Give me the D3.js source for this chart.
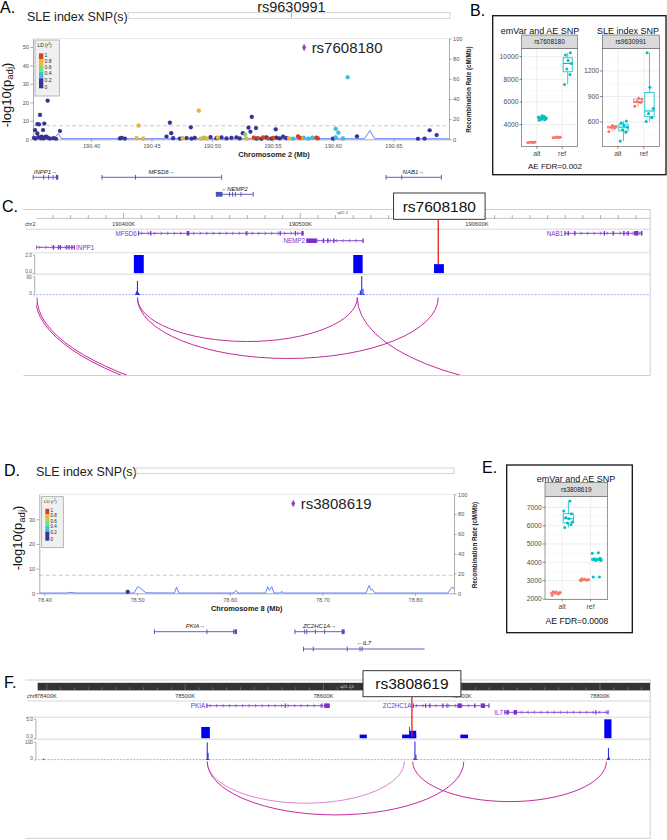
<!DOCTYPE html>
<html><head><meta charset="utf-8">
<script src="https://cdnjs.cloudflare.com/ajax/libs/d3/7.8.5/d3.min.js"></script>
<style>body{margin:0;background:#fff}svg{display:block}</style>
</head><body><script>
// ================= DATA =================
// ---- shared LocusZoom settings ----
const REC_TICKS=[0,20,40,60,80,100];
const LD_LABELS=["1","0.8","0.6","0.4","0.2","0"];
const LD_COLORS=["#d8411d","#f2b52c","#72e06c","#3fbde4","#37339a"]; // 0.8-1, 0.6-0.8, 0.4-0.6, 0.2-0.4, 0-0.2
const GW_SIG=7.3;

// ---- Panel A : chr2 ----
const A_X_TICKS=[190.40,190.45,190.50,190.55,190.60,190.65];
const A_Y_TICKS=[0,10,20,30,40,50];
const A_POS=[190.3537,190.3556,190.3570,190.3578,190.3603,190.3613,190.3641,190.3743,190.3556,190.3627,
 190.4393,190.4891,190.4652,190.4663,190.4825,190.5255,190.5302,190.5329,190.5364,190.5318,190.5527,190.5274,
 190.6122,190.6023,190.6045,190.6199,190.6800,190.6858,
 190.3528,190.3541,190.3564,190.3585,190.3592,190.3605,190.3619,190.3633,190.3646,190.3660,190.3688,190.3710,
 190.4239,190.4253,190.4280,190.4377,190.4431,190.4624,190.4679,190.4734,190.4757,190.4790,190.4831,190.4858,
 190.4908,190.4932,190.4955,190.4988,190.5037,190.5048,190.5079,190.5120,190.5161,190.5203,190.5230,190.5285,
 190.5368,190.5409,190.5450,190.5492,190.5533,190.5560,190.5588,190.5616,190.5346,190.5381,190.5422,190.5464,
 190.5505,190.5637,190.5670,190.5711,190.5725,190.5739,190.5758,190.5797,190.5830,190.5863,190.5876,190.6000,
 190.6083,190.6023,190.6703,190.6758];
const A_P=[5.0,8.3,8.1,13.2,5.0,8.5,20.9,4.5,3.2,1.5,
 7.4,15.5,9.0,3.3,6.5,3.3,6.3,12.1,6.1,4.1,5.4,2.5,
 33.6,5.7,3.6,1.6,4.9,2.3,
 0.8,0.4,1.2,0.6,1.5,0.5,1.0,1.3,0.7,0.4,0.6,0.3,
 0.5,0.8,0.4,0.6,0.4,1.5,0.6,0.4,0.6,0.7,0.4,0.8,
 0.4,0.9,0.5,1.2,0.6,0.9,1.0,0.5,0.8,1.1,0.5,0.4,
 0.4,0.3,1.1,0.4,0.9,0.5,1.4,0.6,0.9,0.6,1.0,0.5,
 0.8,0.5,0.4,1.6,0.8,0.7,0.8,0.4,0.9,0.9,0.5,0.4,
 0.5,1.0,0.3,0.4];
const A_LD=[.1,.1,.1,.1,.1,.1,.1,.1,.1,.1,
 .7,.7,.1,.1,.1,.1,.1,.1,.1,.1,.1,.5,
 .3,.3,.3,.1,.1,.1,
 .1,.1,.1,.1,.1,.1,.1,.1,.1,.1,.1,.1,
 .1,.1,.1,.7,.7,.1,.1,.1,.7,.1,.1,.1,
 .7,.5,.7,.1,.1,.7,.1,.1,.1,.1,.1,.7,
 .1,.1,.1,.1,.1,.1,.1,.1,.9,.9,.9,.9,
 .9,.7,.3,.9,.9,.7,.3,.3,.3,.9,.9,.1,
 .3,.3,.1,.1];
const A_INDEX={name:"rs7608180",pos:190.5762,p:49.7};
const A_SLE={name:"rs9630991",pos:190.5657};
const A_REC_POS=[190.352,190.366,190.3693,190.3729,190.3751,190.3768,190.4610,190.4623,190.4635,190.6262,190.6306,190.6345,190.6960];
const A_REC_RATE=[0.6,0.8,1.0,5.7,1.2,0.6,0.6,1.8,0.6,0.6,8.7,0.6,0.5];
const A_GENE_NAME=["INPP1→","MFSD6→","NAB1→","←NEMP2"];
const A_GENE_START=[190.3518,190.4087,190.6436,190.5032];
const A_GENE_END=[190.3729,190.5079,190.6896,190.5340];
const A_GENE_ROW=[0,0,0,1];
const A_GENE_EXONS=[
 [[190.3518,190.3522],[190.3605,190.3608],[190.3646,190.3649],[190.3682,190.3685],[190.3709,190.3729]],
 [[190.4087,190.4090],[190.4363,190.4366],[190.5076,190.5079]],
 [[190.6436,190.6439],[190.6566,190.6569],[190.6893,190.6896]],
 [[190.5032,190.5087],[190.5141,190.5144],[190.5166,190.5169],[190.5189,190.5192],[190.5236,190.5239],[190.5337,190.5340]]];

// ---- Panel B : box plots ----
const B_CATS=["alt","ref"];
const B1_TITLE="emVar and AE SNP", B1_STRIP="rs7608180";
const B1_TICKS=[4000,6000,8000,10000];
const B1_ALT_G1=[2400,2430,2450,2470,2440];
const B1_ALT_G2=[4380,4420,4480,4520,4560,4590,4620,4680,4740,4790];
const B1_REF_G1=[2840,2860,2870,2890,2900];
const B1_REF_G2=[7550,8420,8900,9400,9650,10150,10350];
const B2_TITLE="SLE index SNP", B2_STRIP="rs9630991";
const B2_TICKS=[600,900,1200];
const B2_ALT_G1=[490,530,540,550,560];
const B2_ALT_G2=[377,480,510,540,560,590,612];
const B2_REF_G1=[785,830,840,870,880];
const B2_REF_G2=[605,650,700,760,1010,1415];
const B_FDR="AE FDR=0.002";

// ---- Panel C : IGV chr2 ----
const C_CHR="chr2", C_BAND="q32.2";
const C_GENE_NAME=["MFSD6","NEMP2","INPP1","NAB1"];
const C_GENE_STRAND=[1,-1,1,1];
const C_GENE_ROW=[0,1,2,0];
const C_GENE_START=[190408.1,190503.4,190350.2,190649.5];
const C_GENE_END=[190501.9,190535.9,190372.4,190693.7];
const C_GENE_EXONS=[
 [[190408.1,190408.8],[190415.0,190415.7],[190435.8,190437.2],[190469.4,190470.1],[190488.3,190489],[190496.9,190497.6],[190500.6,190501.9]],
 [[190503.4,190509.4],[190512.7,190513.5],[190515.2,190516],[190518.6,190519.4],[190535.2,190535.9]],
 [[190350.2,190350.8],[190360,190360.7],[190362.8,190363.5],[190363.9,190364.6],[190367.5,190368.2],[190368.8,190369.5],[190370.4,190371.1],[190371.8,190372.4]],
 [[190649.5,190650.2],[190651.4,190652.1],[190655.1,190655.8],[190671.8,190672.5],[190676.8,190677.5],[190682.8,190683.6],[190685.2,190686],[190689,190691.4],[190692.8,190693.7]]];
const C_BAR_START=[190405.8,190530.0,190575.7];
const C_BAR_END=[190411.4,190535.3,190581.3];
const C_BAR_VAL=[2.0,2.0,1.0];
const C_SIG_POS=[190406.6,190407.2,190407.8,190408.4,190409.0,190533.2,190534.0,190534.8,190535.5,190536.2];
const C_SIG_VAL=[4,12,46,8,3,5,15,62,20,4];
const C_ARC_START=[190407.8,190407.8,190532.3,190350.0,190350.9];
const C_ARC_END=[190532.3,190578.1,190798.0,190900.0,190900.0];
const C_ARC_H=[44,61,94,137,134];
const C_SNP={name:"rs7608180",pos:190578.1};

// ---- Panel D : chr8 ----
const D_X_TICKS=[78.40,78.50,78.60,78.70,78.80];
const D_Y_TICKS=[0,10,20,30];
const D_POS=[78.4900];
const D_P=[0.6];
const D_LD=[0.1];
const D_INDEX={name:"rs3808619",pos:78.6686,p:36.4};
const D_REC_POS=[78.3946,78.4256,78.4277,78.4331,78.4968,78.5007,78.5032,78.5097,78.5404,78.5426,78.5453,78.6046,78.6068,78.6089,78.6386,78.6410,78.6429,78.6453,78.6478,78.6548,78.6561,78.6575,78.7470,78.7506,78.7524,78.7540,78.7567,78.8355,78.8395,78.8420];
const D_REC_RATE=[0.3,0.3,1.0,0.3,0.3,6.7,5.5,0.5,0.3,6,0.3,0.3,3,0.3,0.3,6.7,3,6.7,0.3,0.3,2,0.3,0.3,8,3.5,4,0.3,0.3,6,5];
const D_GENE_NAME=["PKIA→","ZC2HC1A→","←IL7"];
const D_GENE_START=[78.5183,78.6699,78.6791];
const D_GENE_END=[78.6079,78.7240,78.8103];
const D_GENE_ROW=[0,0,1];
const D_GENE_EXONS=[
 [[78.5183,78.5186],[78.5749,78.5752],[78.6038,78.6041],[78.6052,78.6079]],
 [[78.6699,78.6702],[78.6805,78.6808],[78.6827,78.6830],[78.6919,78.6922],[78.7020,78.7023],[78.7208,78.7240]],
 [[78.6791,78.6794],[78.6896,78.6899],[78.7263,78.7266],[78.7401,78.7404],[78.7424,78.7427]]];

// ---- Panel E : box plot ----
const E_TITLE="emVar and AE SNP", E_STRIP="rs3808619";
const E_TICKS=[2000,3000,4000,5000,6000,7000];
const E_ALT_G1=[2200,2280,2330,2350,2380,2400];
const E_ALT_G2=[5900,6050,6150,6200,6380,6450,6650,6800,7350];
const E_REF_G1=[3000,3030,3050,3060,3080,3100];
const E_REF_G2=[3200,3200,4100,4100,4150,4200,4220,4500,4520];
const E_FDR="AE FDR=0.0008";

// ---- Panel F : IGV chr8 ----
const F_CHR="chr8", F_BAND="q21.13";
const F_GENE_NAME=["PKIA","ZC2HC1A","IL7"];
const F_GENE_STRAND=[1,1,-1];
const F_GENE_ROW=[0,0,1];
const F_GENE_START=[78515.4,78664.6,78730.8];
const F_GENE_END=[78604.6,78720.0,78806.1];
const F_GENE_EXONS=[
 [[78515.4,78516.1],[78572.0,78572.8],[78598.5,78599.3],[78600.6,78604.6]],
 [[78664.6,78665.3],[78673.5,78674.3],[78676.6,78677.4],[78686,78686.8],[78689,78689.8],[78696.9,78700],[78709,78709.8],[78713.8,78716.9],[78719.3,78720]],
 [[78730.8,78731.5],[78732.3,78734],[78737.5,78740],[78796.6,78797.3],[78805.4,78806.1]]];
const F_BAR_START=[78511.7,78626.2,78656.9,78662.2,78662.0,78699.0,78803.1];
const F_BAR_END=[78517.9,78631.4,78667.1,78667.1,78662.4,78704.6,78808.3];
const F_BAR_VAL=[3.0,1.0,1.0,2.0,3.0,1.0,5.0];
const F_SIG_POS=[78397.8,78515.4,78516.0,78516.6,78517.2,78665.5,78666.2,78666.9,78667.5,78805.5,78806.1,78806.7];
const F_SIG_VAL=[8,6,100,40,5,10,105,30,5,10,68,15];
const F_ARC_START=[78516.0,78516.0,78664.6];
const F_ARC_END=[78658.5,78701.5,78804.6];
const F_ARC_H=[41.6,53.3,40];
const F_ARC_LIGHT=[1,0,0];
const F_SNP={name:"rs3808619",pos:78664.0};

// ================= DRAWING =================
const FONT="'Liberation Sans', Arial, Helvetica, sans-serif";
const W=667,H=840;
const svg=d3.select("body").append("svg").attr("width",W).attr("height",H).attr("font-family",FONT);
svg.append("rect").attr("width",W).attr("height",H).attr("fill","#fff");
const defs=svg.append("defs");

function T(g,x,y,s,size,o={}){
  const t=g.append("text").attr("x",x).attr("y",y).attr("font-size",size).text(s);
  if(o.anchor)t.attr("text-anchor",o.anchor);
  t.attr("fill",o.fill||"#000");
  if(o.weight)t.attr("font-weight",o.weight);
  if(o.style)t.attr("font-style",o.style);
  if(o.rotate!=null)t.attr("transform",`rotate(${o.rotate},${x},${y})`);
  return t;
}
function styleAxis(sel,fs){
  sel.attr("font-size",null).attr("font-family",null);
  sel.select(".domain").attr("stroke","#8a8a8a").attr("stroke-width",0.7);
  sel.selectAll(".tick line").attr("stroke","#8a8a8a").attr("stroke-width",0.7);
  sel.selectAll(".tick text").attr("fill","#555").attr("font-size",fs).attr("font-family",FONT);
}
function ldColor(v){return LD_COLORS[4-Math.min(4,Math.floor(v/0.2))];}

// panel letters
[["A.",0,13],["B.",470,15.5],["C.",2,212],["D.",4,476],["E.",482,473],["F.",4,688]].forEach(d=>T(svg,d[1],d[2],d[0],16));

// ---------- LocusZoom ----------
function locusZoom(o){
  const g=svg.append("g");
  const x=d3.scaleLinear().domain(o.xDom).range([o.x0,o.x1]);
  const y=d3.scaleLinear().domain(o.yDom).range([o.yBot,o.yTop]);
  const yr=d3.scaleLinear().domain([0,100]).range([o.yBot,o.yTop]);
  T(g,o.sleX,o.sleY,"SLE index SNP(s)",12.5,{fill:"#222"});
  g.append("rect").attr("x",o.sleBar[0]).attr("y",o.sleBar[1]).attr("width",o.sleBar[2]-o.sleBar[0]).attr("height",5.6)
    .attr("fill","#fff").attr("stroke","#cacaca").attr("stroke-width",0.8);
  if(o.sle){
    g.append("line").attr("x1",x(o.sle.pos)).attr("x2",x(o.sle.pos)).attr("y1",o.sleBar[1]+0.4).attr("y2",o.sleBar[1]+5.2).attr("stroke","#8b8bf0").attr("stroke-width",0.8);
    T(g,x(o.sle.pos),o.sleBar[1]-0.6,o.sle.name,14.5,{anchor:"middle",fill:"#222"});
  }
  g.append("line").attr("x1",o.x0).attr("x2",o.x1).attr("y1",o.yTop).attr("y2",o.yTop).attr("stroke","#dedede").attr("stroke-width",0.7);
  g.append("line").attr("x1",o.x0).attr("x2",o.x1).attr("y1",y(GW_SIG)).attr("y2",y(GW_SIG))
    .attr("stroke","#bdbdbd").attr("stroke-width",0.8).attr("stroke-dasharray","4,2.5");
  g.append("path").datum(o.recPos.map((p,i)=>[p,o.recRate[i]]))
    .attr("d",d3.line().x(d=>x(d[0])).y(d=>yr(d[1]))).attr("fill","none").attr("stroke","#3f63ff").attr("stroke-width",0.8);
  const ab=g.append("g").attr("transform",`translate(0,${o.yBot})`)
    .call(d3.axisBottom(x).tickValues(o.xTicks).tickFormat(d3.format(".2f")).tickSize(2.5).tickSizeOuter(0).tickPadding(2));
  styleAxis(ab,5.6);
  const al=g.append("g").attr("transform",`translate(${o.x0},0)`)
    .call(d3.axisLeft(y).tickValues(o.yTicks).tickSize(2.6).tickSizeOuter(0).tickPadding(1.5));
  styleAxis(al,5.6);
  const ar=g.append("g").attr("transform",`translate(${o.x1},0)`)
    .call(d3.axisRight(yr).tickValues(REC_TICKS).tickSize(2.6).tickSizeOuter(0).tickPadding(1.5));
  styleAxis(ar,5.6);
  const pts=o.pos.map((p,i)=>({p,v:o.p[i],ld:o.ld[i]})).sort((a,b)=>a.ld-b.ld);
  g.selectAll("circle.snp").data(pts).enter().append("circle").attr("class","snp")
    .attr("cx",d=>x(d.p)).attr("cy",d=>y(d.v)).attr("r",2.1).attr("fill",d=>ldColor(d.ld))
    .attr("stroke","#2a2a60").attr("stroke-opacity",0.25).attr("stroke-width",0.3);
  const ix=x(o.index.pos), iy=y(o.index.p);
  g.append("path").attr("d",`M${ix},${iy-3.8}L${ix+2},${iy}L${ix},${iy+3.8}L${ix-2},${iy}Z`).attr("fill","#9a3ec5");
  T(g,ix+7.5,iy+5.3,o.index.name,15,{fill:"#222"});
  const L=o.legend, k=L[3]/56;
  g.append("rect").attr("x",L[0]).attr("y",L[1]).attr("width",L[2]).attr("height",L[3]).attr("fill","#f0f0f0").attr("stroke","#9a9a9a").attr("stroke-width",0.7);
  const tt=T(g,L[0]+2.5*k,L[1]+6.8*k,"LD (r",4.8*k,{fill:"#222"});
  tt.append("tspan").attr("font-size",3.2*k).attr("dy",-1.6*k).text("2");
  tt.append("tspan").attr("dy",1.6*k).text(")");
  const segs=[6,6.4,6,6.6,10]; let yy=L[1]+13.3*k;
  const bounds=[yy];
  LD_COLORS.forEach((c,i)=>{g.append("rect").attr("x",L[0]+4*k).attr("y",yy).attr("width",4.3*k).attr("height",segs[i]*k).attr("fill",c);yy+=segs[i]*k;bounds.push(yy);});
  LD_LABELS.forEach((s,i)=>T(g,L[0]+9.6*k,bounds[i]+(i===5?-1:1.5)*k+1.7*k,s,5*k,{fill:"#222"}));
  const yt=T(g,o.yTitle[0],o.yTitle[1],"-log10(p",13,{anchor:"middle",rotate:-90,fill:"#111"});
  yt.append("tspan").attr("font-size",9.5).attr("dy",2.5).text("adj");
  yt.append("tspan").attr("dy",-2.5).text(")");
  T(g,o.rTitle[0],o.rTitle[1],"Recombination Rate (cM/Mb)",6.3,{anchor:"middle",rotate:-90,weight:"bold",fill:"#222"});
  T(g,(o.x0+o.x1)/2+o.xTitleShift,o.yBot+17.3,o.xTitle,7.4,{anchor:"middle",weight:"bold",fill:"#222"});
  return x;
}
function lzGenes(x,names,starts,ends,exons,rows,rowY,labelY){
  const g=svg.append("g"); const col="#4f4fb8";
  names.forEach((n,i)=>{
    const yl=rowY[rows[i]];
    g.append("line").attr("x1",x(starts[i])).attr("x2",x(ends[i])).attr("y1",yl).attr("y2",yl).attr("stroke",col).attr("stroke-width",0.9);
    exons[i].forEach(e=>g.append("rect").attr("x",x(e[0])).attr("y",yl-2.4).attr("width",Math.max(0.9,x(e[1])-x(e[0]))).attr("height",4.8).attr("fill",col));
    T(g,(x(starts[i])+x(ends[i]))/2,labelY[rows[i]],n,6,{anchor:"middle",style:"italic",fill:"#222"});
  });
}

const xA=locusZoom({x0:33,x1:449,yTop:38.5,yBot:139.3,xDom:[190.352,190.696],yDom:[0,54.6],xTicks:A_X_TICKS,yTicks:A_Y_TICKS,
  pos:A_POS,p:A_P,ld:A_LD,recPos:A_REC_POS,recRate:A_REC_RATE,index:A_INDEX,sle:A_SLE,
  sleX:27,sleY:20.5,sleBar:[128,12.7,450],legend:[35,40,24.3,56],yTitle:[10.5,95],rTitle:[471,89.5],xTitle:"Chromosome 2 (Mb)",xTitleShift:33});
lzGenes(xA,A_GENE_NAME,A_GENE_START,A_GENE_END,A_GENE_EXONS,A_GENE_ROW,[177.3,194.3],[173.6,190.8]);

const xD=locusZoom({x0:39.3,x1:454,yTop:494.3,yBot:593.3,xDom:[78.3946,78.842],yDom:[0,40.1],xTicks:D_X_TICKS,yTicks:D_Y_TICKS,
  pos:D_POS,p:D_P,ld:D_LD,recPos:D_REC_POS,recRate:D_REC_RATE,index:D_INDEX,sle:null,
  sleX:36,sleY:476,sleBar:[136,468,454],legend:[41.7,496.7,21.6,51],yTitle:[22,538],rTitle:[477,545],xTitle:"Chromosome 8 (Mb)",xTitleShift:0});
lzGenes(xD,D_GENE_NAME,D_GENE_START,D_GENE_END,D_GENE_EXONS,D_GENE_ROW,[631.7,649],[627.6,645]);

// ---------- Box plots ----------
const JIT=[-0.7,0.5,-0.2,0.8,0.1,-0.5,0.6,-0.9,0.3,-0.1];
function boxPlot(o){
  const g=svg.append("g");
  const y=d3.scaleLinear().domain(o.dom).range([o.y1,o.y0]);
  const x=d3.scalePoint().domain(B_CATS).range([o.x0,o.x1]).padding(0.6);
  const step=x.step();
  g.append("rect").attr("x",o.x0).attr("y",o.y0).attr("width",o.x1-o.x0).attr("height",o.y1-o.y0).attr("fill","#fff");
  const t=o.ticks, dt=t[1]-t[0];
  const minors=d3.range(t[0]-dt/2,o.dom[1],dt).filter(v=>v>o.dom[0]);
  minors.forEach(v=>g.append("line").attr("x1",o.x0).attr("x2",o.x1).attr("y1",y(v)).attr("y2",y(v)).attr("stroke","#f1f1f1").attr("stroke-width",0.4));
  t.forEach(v=>g.append("line").attr("x1",o.x0).attr("x2",o.x1).attr("y1",y(v)).attr("y2",y(v)).attr("stroke","#e6e6e6").attr("stroke-width",0.7));
  B_CATS.forEach(c=>g.append("line").attr("x1",x(c)).attr("x2",x(c)).attr("y1",o.y0).attr("y2",o.y1).attr("stroke","#e6e6e6").attr("stroke-width",0.7));
  const cols=["#F8766D","#00BFC4"];
  B_CATS.forEach((c,ci)=>o.data[ci].forEach((arr,gi)=>{
    const cx=x(c)+(gi?1:-1)*0.22*step, bw=0.36*step;
    const s=arr.slice().sort(d3.ascending);
    const q1=d3.quantile(s,.25),md=d3.quantile(s,.5),q3=d3.quantile(s,.75),iqr=q3-q1;
    const lo=d3.min(s.filter(v=>v>=q1-o.coef*iqr)),hi=d3.max(s.filter(v=>v<=q3+o.coef*iqr));
    const col=cols[gi];
    g.append("line").attr("x1",cx).attr("x2",cx).attr("y1",y(hi)).attr("y2",y(q3)).attr("stroke",col).attr("stroke-width",0.8);
    g.append("line").attr("x1",cx).attr("x2",cx).attr("y1",y(q1)).attr("y2",y(lo)).attr("stroke",col).attr("stroke-width",0.8);
    g.append("rect").attr("x",cx-bw/2).attr("y",y(q3)).attr("width",bw).attr("height",Math.max(0.5,y(q1)-y(q3))).attr("fill","none").attr("stroke",col).attr("stroke-width",0.8);
    g.append("line").attr("x1",cx-bw/2).attr("x2",cx+bw/2).attr("y1",y(md)).attr("y2",y(md)).attr("stroke",col).attr("stroke-width",1.1);
    arr.forEach((v,i)=>g.append("circle").attr("cx",cx+JIT[i%JIT.length]*bw*0.5).attr("cy",y(v)).attr("r",1.5).attr("fill",col));
  }));
  g.append("rect").attr("x",o.x0).attr("y",o.y0).attr("width",o.x1-o.x0).attr("height",o.y1-o.y0).attr("fill","none").attr("stroke","#555").attr("stroke-width",0.6);
  g.append("rect").attr("x",o.x0).attr("y",o.stripY).attr("width",o.x1-o.x0).attr("height",o.y0-o.stripY).attr("fill","#d9d9d9").attr("stroke","#555").attr("stroke-width",0.6);
  T(g,(o.x0+o.x1)/2,(o.stripY+o.y0)/2+2.3,o.strip,6.5,{anchor:"middle",fill:"#1a1a1a"});
  t.forEach(v=>{g.append("line").attr("x1",o.x0-2.2).attr("x2",o.x0).attr("y1",y(v)).attr("y2",y(v)).attr("stroke","#333").attr("stroke-width",0.6);
    T(g,o.x0-3.2,y(v)+2.4,String(v),6.8,{anchor:"end",fill:"#4d4d4d"});});
  B_CATS.forEach(c=>{g.append("line").attr("x1",x(c)).attr("x2",x(c)).attr("y1",o.y1).attr("y2",o.y1+2.2).attr("stroke","#333").attr("stroke-width",0.6);
    T(g,x(c),o.y1+9.2,c,7,{anchor:"middle",fill:"#4d4d4d"});});
  T(g,o.titleX,o.titleY,o.title,9,{anchor:"middle",fill:"#111"});
}
svg.append("rect").attr("x",492.7).attr("y",15.7).attr("width",173.3).attr("height",159).attr("fill","none").attr("stroke","#111").attr("stroke-width",1.3);
boxPlot({x0:521.7,x1:577.3,y0:48.7,y1:146.7,stripY:35,dom:[2050,10700],ticks:B1_TICKS,coef:Infinity,
  data:[[B1_ALT_G1,B1_ALT_G2],[B1_REF_G1,B1_REF_G2]],strip:B1_STRIP,title:B1_TITLE,titleX:540,titleY:33.5});
boxPlot({x0:602.3,x1:659.3,y0:48.7,y1:146.7,stripY:35,dom:[310,1462],ticks:B2_TICKS,coef:Infinity,
  data:[[B2_ALT_G1,B2_ALT_G2],[B2_REF_G1,B2_REF_G2]],strip:B2_STRIP,title:B2_TITLE,titleX:628,titleY:33.5});
T(svg,555,168.5,B_FDR,8,{anchor:"middle",fill:"#111"});
svg.append("rect").attr("x",506.7).attr("y",465).attr("width",125.6).attr("height",167.7).attr("fill","none").attr("stroke","#111").attr("stroke-width",1.3);
boxPlot({x0:545,x1:607.7,y0:496.7,y1:599.3,stripY:482.3,dom:[1985,7580],ticks:E_TICKS,coef:1.5,
  data:[[E_ALT_G1,E_ALT_G2],[E_REF_G1,E_REF_G2]],strip:E_STRIP,title:E_TITLE,titleX:576,titleY:481.5});
T(svg,577,623.5,E_FDR,8.6,{anchor:"middle",fill:"#111"});

// ---------- IGV panels ----------
const IGV_GENE="#7b32cc";
function igvPanel(o){
  const g=svg.append("g");
  const x=d3.scaleLinear().domain(o.dom).range([o.x0,o.x1]);
  g.append("path").attr("d",`M${o.fx0},${o.fy0}H${o.x1}V${o.fy1}H${o.fx0}`).attr("fill","none").attr("stroke","#cfcfcf").attr("stroke-width",1);
  const cid="clip"+o.id;
  defs.append("clipPath").attr("id",cid).append("rect").attr("x",o.x0).attr("y",o.fy0-20).attr("width",o.x1-o.x0).attr("height",o.fy1-o.fy0+20);
  const gc=g.append("g").attr("clip-path",`url(#${cid})`);
  const ticks=d3.range(Math.ceil(o.dom[0]/10)*10,o.dom[1]+1,10);
  if(o.dark){
    gc.append("rect").attr("x",o.x0).attr("y",o.rulerY-7.6).attr("width",o.x1-o.x0).attr("height",7.6).attr("fill","#333");
    ticks.forEach(k=>gc.append("line").attr("x1",x(k)).attr("x2",x(k)).attr("y1",o.rulerY-(k%100===0?6.5:3.2)).attr("y2",o.rulerY).attr("stroke","#8a8a8a").attr("stroke-width",0.6));
    T(gc,x(o.bandPos),o.rulerY-2.8,o.band,4.4,{anchor:"middle",fill:"#d8d8d8"});
  } else {
    gc.append("line").attr("x1",o.x0).attr("x2",o.x1).attr("y1",o.rulerY).attr("y2",o.rulerY).attr("stroke","#9a9a9a").attr("stroke-width",0.6);
    ticks.forEach(k=>gc.append("line").attr("x1",x(k)).attr("x2",x(k)).attr("y1",o.rulerY-(k%100===0?5.6:3.3)).attr("y2",o.rulerY).attr("stroke","#777").attr("stroke-width",0.6));
    T(gc,x(o.bandPos),o.rulerY-4.2,o.band,4.4,{anchor:"middle",fill:"#555"});
  }
  ticks.filter(k=>k%100===0).forEach(k=>T(gc,x(k),o.labelY,k+"K",5.8,{anchor:"middle",fill:"#333"}));
  T(g,o.fx0+1.5,o.labelY,o.chr,5.4,{fill:"#333"});
  o.seps.forEach(s=>g.append("line").attr("x1",o.x0-10).attr("x2",o.x1).attr("y1",s).attr("y2",s).attr("stroke","#e4e4e4").attr("stroke-width",1.4));
  o.genes.names.forEach((n,i)=>{
    const yl=o.rowY[o.genes.rows[i]], xs=x(o.genes.start[i]), xe=x(o.genes.end[i]);
    gc.append("line").attr("x1",xs).attr("x2",xe).attr("y1",yl).attr("y2",yl).attr("stroke",IGV_GENE).attr("stroke-width",0.9);
    for(let cx=xs+4;cx<xe-2;cx+=6.5){
      const d=o.genes.strand[i]>0?`M${cx-1},${yl-1.6}L${cx+0.7},${yl}L${cx-1},${yl+1.6}`:`M${cx+1},${yl-1.6}L${cx-0.7},${yl}L${cx+1},${yl+1.6}`;
      gc.append("path").attr("d",d).attr("fill","none").attr("stroke",IGV_GENE).attr("stroke-width",0.7);
    }
    o.genes.exons[i].forEach(e=>gc.append("rect").attr("x",x(e[0])).attr("y",yl-2.3).attr("width",Math.max(1.1,x(e[1])-x(e[0]))).attr("height",4.6).attr("fill",IGV_GENE));
    const lw=n.length*4.3;
    if(xs-1.2-lw<o.x0) T(gc,xe+1.2,yl+2.2,n,6.3,{fill:IGV_GENE});
    else T(gc,xs-1.2,yl+2.2,n,6.3,{anchor:"end",fill:IGV_GENE});
  });
  function bracket(yT,yB,lt,lb){
    g.append("path").attr("d",`M${o.x0-3.2},${yT}H${o.x0-1.5}V${yB}H${o.x0-3.2}`).attr("fill","none").attr("stroke","#777").attr("stroke-width",0.6);
    T(g,o.x0-4.4,yT+1.8,lt,4.8,{anchor:"end",fill:"#555"});
    T(g,o.x0-4.4,yB,lb,4.8,{anchor:"end",fill:"#555"});
  }
  const yb=d3.scaleLinear().domain([0,o.barMax]).range([o.barBase,o.barTop]);
  bracket(o.barTop,o.barBase,o.barMax.toFixed(1),"0.0");
  o.bars.start.forEach((s,i)=>gc.append("rect").attr("x",x(s)).attr("y",yb(o.bars.val[i])).attr("width",Math.max(0.7,x(o.bars.end[i])-x(s))).attr("height",o.barBase-yb(o.bars.val[i])).attr("fill","#0000f2"));
  const ys=d3.scaleLinear().domain([0,o.sigMax]).range([o.sigBase,o.sigTop]);
  bracket(o.sigTop,o.sigBase,String(o.sigMax),"0");
  gc.append("line").attr("x1",o.x0).attr("x2",o.x1).attr("y1",o.sigBase-0.4).attr("y2",o.sigBase-0.4).attr("stroke","#a3abf6").attr("stroke-width",0.9).attr("stroke-dasharray","2.2,1.1");
  o.sig.pos.forEach((p,i)=>gc.append("rect").attr("x",x(p)-0.5).attr("y",ys(o.sig.val[i])).attr("width",1).attr("height",o.sigBase-ys(o.sig.val[i])).attr("fill","#1a1ae8"));
  const aid="aclip"+o.id;
  defs.append("clipPath").attr("id",aid).append("rect").attr("x",o.x0).attr("y",o.arcBase-2).attr("width",o.x1-o.x0).attr("height",o.fy1-o.arcBase+1.5);
  const ga=g.append("g").attr("clip-path",`url(#${aid})`);
  o.arcs.start.forEach((s,i)=>{
    const xs=x(s), xe=x(o.arcs.end[i]), h=o.arcs.h[i];
    ga.append("path").attr("d",`M${xs},${o.arcBase}A${(xe-xs)/2},${h} 0 0 0 ${xe},${o.arcBase}`)
      .attr("fill","none").attr("stroke",o.arcs.light&&o.arcs.light[i]?"#dc86cf":"#c42a9b").attr("stroke-width",1);
  });
  const sx=x(o.snp.pos);
  g.append("line").attr("x1",sx).attr("x2",sx).attr("y1",o.box[3]).attr("y2",o.snpBottom).attr("stroke","#ee1c1c").attr("stroke-width",1.3);
  g.append("rect").attr("x",o.box[0]).attr("y",o.box[1]).attr("width",o.box[2]-o.box[0]).attr("height",o.box[3]-o.box[1]).attr("fill","#fff").attr("stroke","#222").attr("stroke-width",0.9);
  T(g,(o.box[0]+o.box[2])/2,o.box[1]+18.5,o.snp.name,15.5,{anchor:"middle",fill:"#111"});
}

igvPanel({id:"C",dom:[190350.5,190698.1],x0:36.2,x1:650.2,fx0:23.4,fy0:209.5,fy1:375.5,dark:false,rulerY:218.4,labelY:226.4,
  chr:C_CHR,band:C_BAND,bandPos:190524,seps:[229.3,252.6,274.2],rowY:[233.3,240.7,247.3],
  genes:{names:C_GENE_NAME,strand:C_GENE_STRAND,rows:C_GENE_ROW,start:C_GENE_START,end:C_GENE_END,exons:C_GENE_EXONS},
  barMax:2,barTop:255,barBase:273.3,bars:{start:C_BAR_START,end:C_BAR_END,val:C_BAR_VAL},
  sigMax:60,sigTop:276.7,sigBase:295,sig:{pos:C_SIG_POS,val:C_SIG_VAL},
  arcBase:297.5,arcs:{start:C_ARC_START,end:C_ARC_END,h:C_ARC_H},
  snp:C_SNP,box:[393.6,193,485.1,219.3],snpBottom:264.3});

igvPanel({id:"F",dom:[78393.2,78836.3],x0:37.4,x1:650.2,fx0:25.5,fy0:680,fy1:838.3,dark:true,rulerY:690.4,labelY:697.6,
  chr:F_CHR,band:F_BAND,bandPos:78617,seps:[701,717.3,739.3],rowY:[705.7,712.3],
  genes:{names:F_GENE_NAME,strand:F_GENE_STRAND,rows:F_GENE_ROW,start:F_GENE_START,end:F_GENE_END,exons:F_GENE_EXONS},
  barMax:5,barTop:719.3,barBase:738.4,bars:{start:F_BAR_START,end:F_BAR_END,val:F_BAR_VAL},
  sigMax:100,sigTop:742.4,sigBase:760,sig:{pos:F_SIG_POS,val:F_SIG_VAL},
  arcBase:761.6,arcs:{start:F_ARC_START,end:F_ARC_END,h:F_ARC_H,light:F_ARC_LIGHT},
  snp:F_SNP,box:[363,670.7,460.9,696.7],snpBottom:736.7});
</script></body></html>
